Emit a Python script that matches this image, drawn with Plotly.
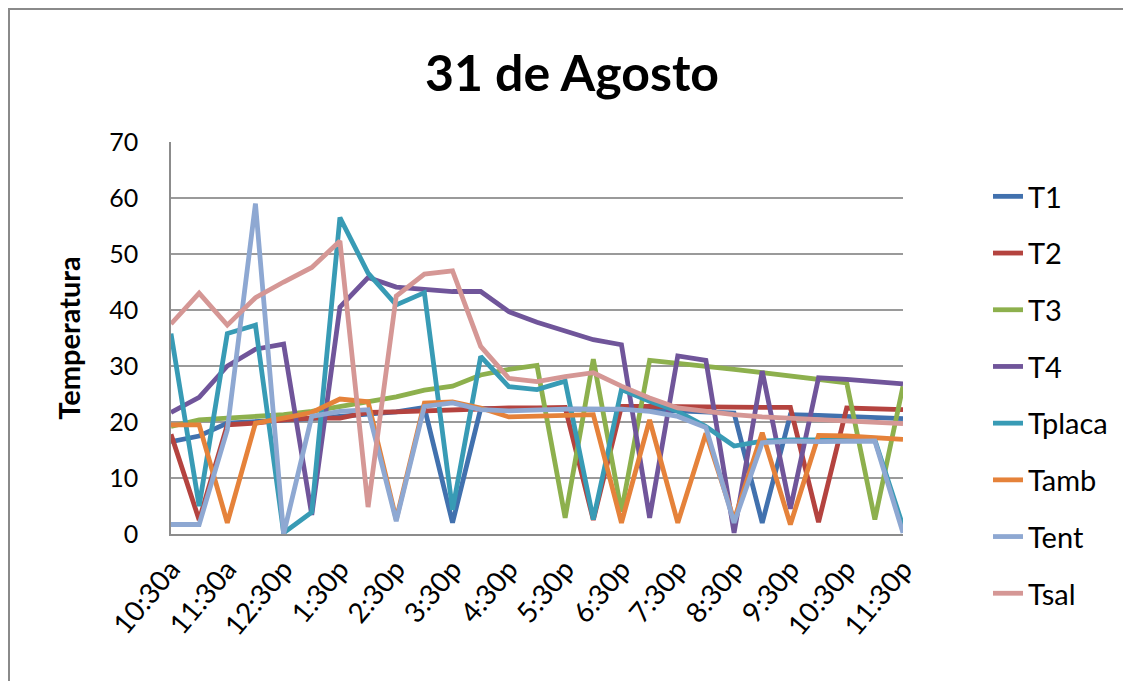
import plotly.graph_objects as go

categories = ["10:30a", "11:00a", "11:30a", "12:00p", "12:30p", "1:00p", "1:30p", "2:00p",
              "2:30p", "3:00p", "3:30p", "4:00p", "4:30p", "5:00p", "5:30p", "6:00p",
              "6:30p", "7:00p", "7:30p", "8:00p", "8:30p", "9:00p", "9:30p", "10:00p",
              "10:30p", "11:00p", "11:30p"]
tick_labels = ["10:30a", "11:30a", "12:30p", "1:30p", "2:30p", "3:30p", "4:30p",
               "5:30p", "6:30p", "7:30p", "8:30p", "9:30p", "10:30p", "11:30p"]

T1 = [16.5, 17.5, 19.8, 20.0, 20.3, 20.6, 21.0, 21.5, 21.8, 22.6, 2.0, 22.4, 22.4, 22.3,
      22.3, 22.3, 22.3, 22.2, 22.0, 21.8, 21.6, 2.0, 21.3, 21.2, 21.0, 20.9, 20.6]
T2 = [17.8, 2.5, 19.5, 19.8, 20.4, 20.7, 20.7, 21.7, 21.8, 22.0, 22.2, 22.4, 22.5, 22.5,
      22.6, 2.5, 22.8, 22.8, 22.7, 22.7, 22.6, 22.6, 22.6, 2.1, 22.5, 22.4, 22.2]
T3 = [19.2, 20.4, 20.7, 21.0, 21.3, 21.9, 22.8, 23.5, 24.5, 25.7, 26.4, 28.4, 29.4, 30.1,
      2.9, 31.2, 4.0, 31.0, 30.5, 30.1, 29.4, 28.8, 28.2, 27.7, 27.0, 2.6, 26.4]
T4 = [21.7, 24.4, 30.0, 33.0, 33.9, 3.4, 40.5, 45.8, 44.1, 43.6, 43.3, 43.3, 39.7, 37.8,
      36.2, 34.7, 33.8, 2.9, 31.8, 31.0, 0.2, 29.1, 4.5, 27.9, 27.6, 27.1, 26.8]
Tplaca = [35.8, 5.0, 35.8, 37.3, 0.2, 3.9, 56.5, 46.6, 40.9, 43.1, 4.3, 31.7, 26.3, 25.8,
          27.3, 2.6, 25.8, 23.7, 21.9, 19.2, 15.7, 16.6, 16.8, 16.8, 16.8, 16.8, 1.4]
Tamb = [19.5, 19.5, 2.0, 19.8, 20.7, 21.7, 24.1, 23.6, 2.6, 23.4, 23.6, 22.5, 20.9, 21.1,
        21.3, 21.3, 2.0, 20.4, 2.0, 18.0, 2.5, 18.1, 1.7, 17.6, 17.5, 17.2, 16.9]
Tent = [1.7, 1.7, 18.6, 59.0, 0.0, 21.0, 21.9, 22.2, 2.3, 22.8, 23.4, 22.2, 22.0, 22.2,
        22.3, 22.3, 22.3, 21.9, 21.0, 19.0, 2.0, 16.3, 16.6, 16.5, 16.5, 16.6, 0.2]
Tsal = [37.5, 43.0, 37.3, 42.2, 45.0, 47.6, 52.3, 4.8, 42.5, 46.4, 47.0, 33.5, 27.8, 27.2,
        28.1, 28.8, 26.4, 24.3, 22.5, 21.8, 21.3, 20.9, 20.7, 20.5, 20.2, 20.0, 19.7]

series_names = ["T1", "T2", "T3", "T4", "Tplaca", "Tamb", "Tent", "Tsal"]
series_values = [T1, T2, T3, T4, Tplaca, Tamb, Tent, Tsal]
colors = ["#4171AE", "#B4433F", "#8DB04D", "#70559A", "#389BB5", "#E5823A", "#8EA8D2", "#D59795"]

FONT = "Lato"

fig = go.Figure()
for name, vals, col in zip(series_names, series_values, colors):
    fig.add_trace(go.Scatter(
        x=categories, y=vals, name=name, mode="lines",
        line=dict(color=col, width=4.8),
        legendgroup=name,
    ))

# page body adds an 8px offset; figure is sized to fill the remaining window
W, H = 1123, 673
L, R, T, B = 163, 228, 134, 147
pw, ph = W - L - R, H - T - B

def px_x(px):
    return (px - L) / pw

def px_y(py):
    return (H - B - py) / ph

fig.update_layout(
    width=W, height=H,
    margin=dict(l=L, r=R, t=T, b=B),
    paper_bgcolor="white", plot_bgcolor="white",
    font=dict(family=FONT, color="#000000"),
    title=dict(text="<b>31 de Agosto</b>", font=dict(family=FONT, size=50, color="#000000"),
               xref="paper", x=px_x(564), xanchor="center",
               yref="container", y=1 - 65 / H, yanchor="middle"),
    showlegend=True,
    legend=dict(x=px_x(980), xanchor="left", y=px_y(163), yanchor="top",
                font=dict(family=FONT, size=29, color="#000000"),
                tracegroupgap=16, bgcolor="rgba(0,0,0,0)", maxheight=640),
    xaxis=dict(type="category", categoryorder="array", categoryarray=categories,
               tickmode="array", tickvals=tick_labels, ticktext=tick_labels,
               tickangle=-50, tickfont=dict(family=FONT, size=28, color="#000000"),
               showgrid=False, showline=True, linecolor="#8C8C8C", linewidth=1.5,
               ticks="", ticklabelstandoff=6, zeroline=False),
    yaxis=dict(range=[0, 70], dtick=10, tick0=0,
               tickfont=dict(family=FONT, size=25, color="#000000"),
               showgrid=True, gridcolor="#9A9A9A", gridwidth=1.5,
               showline=True, linecolor="#8C8C8C", linewidth=1.5,
               ticks="", ticklabelstandoff=26, zeroline=False,
               title=dict(text="<b>Temperatura</b>", font=dict(family=FONT, size=29, color="#000000"),
                          standoff=20)),
    shapes=[dict(type="rect", xref="paper", yref="paper",
                 x0=px_x(1), x1=px_x(1200), y0=px_y(760), y1=px_y(1),
                 line=dict(color="#8A8A8A", width=2), fillcolor="rgba(0,0,0,0)", layer="below")],
)

fig.write_html("out.html")
